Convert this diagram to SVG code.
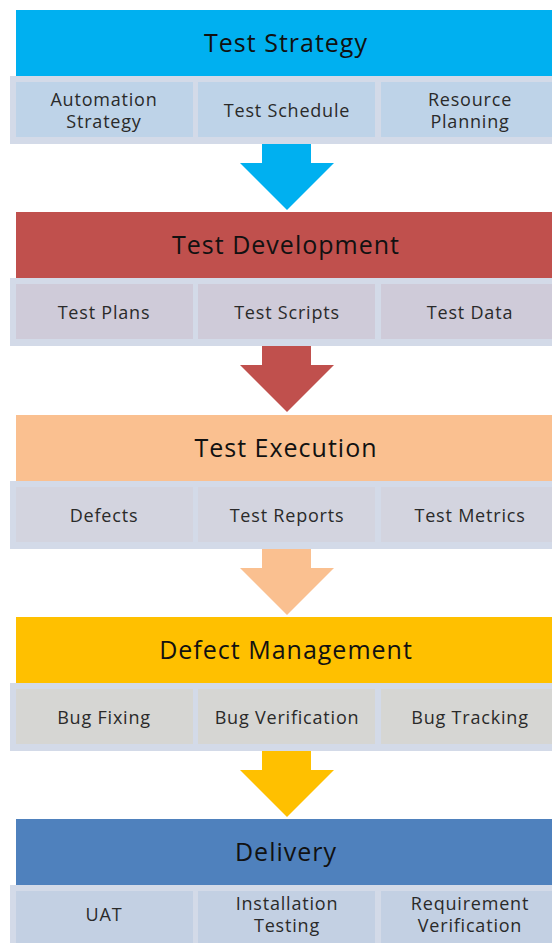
<svg xmlns="http://www.w3.org/2000/svg" width="552" height="943" viewBox="0 0 552 943">
  <style>
    .band { fill: #d3dae8; }
    .head-text { font-family: "Open Sans", "Liberation Sans", Arial, sans-serif; font-size: 25px; letter-spacing: 1px; fill: #111; text-anchor: middle; dominant-baseline: central; }
    .sub-text { font-family: "Open Sans", "Liberation Sans", Arial, sans-serif; font-size: 18px; letter-spacing: 0.8px; fill: #2a2a2a; text-anchor: middle; dominant-baseline: central; }
    .s1 .head, .s1 .arrow { fill: #00b0f0; }
    .s1 .cell { fill: #bed3e8; }
    .s2 .head, .s2 .arrow { fill: #c0504d; }
    .s2 .cell { fill: #cfcbd9; }
    .s3 .head, .s3 .arrow { fill: #fac090; }
    .s3 .cell { fill: #d3d4df; }
    .s4 .head, .s4 .arrow { fill: #ffc000; }
    .s4 .cell { fill: #d6d6d3; }
    .s5 .head { fill: #4f81bd; }
    .s5 .cell { fill: #c3d0e3; }
  </style>

  <!-- Stage 1 -->
  <g id="test-strategy" class="s1">
    <rect class="head" x="16" y="10" width="545" height="66"/>
    <text class="head-text" x="286" y="42">Test Strategy</text>
    <rect class="band" x="10" y="76" width="552" height="68"/>
    <rect class="cell" x="16" y="82" width="177" height="55"/>
    <rect class="cell" x="198" y="82" width="177" height="55"/>
    <rect class="cell" x="381" y="82" width="180" height="55"/>
    <text class="sub-text" x="104" y="99">Automation</text>
    <text class="sub-text" x="104" y="121">Strategy</text>
    <text class="sub-text" x="287" y="110">Test Schedule</text>
    <text class="sub-text" x="470" y="99">Resource</text>
    <text class="sub-text" x="470" y="121">Planning</text>
  </g>

  <!-- Stage 2 -->
  <g id="test-development" class="s2">
    <rect class="head" x="16" y="212" width="545" height="66"/>
    <text class="head-text" x="286" y="244">Test Development</text>
    <rect class="band" x="10" y="278" width="552" height="68"/>
    <rect class="cell" x="16" y="284" width="177" height="55"/>
    <rect class="cell" x="198" y="284" width="177" height="55"/>
    <rect class="cell" x="381" y="284" width="180" height="55"/>
    <text class="sub-text" x="104" y="312">Test Plans</text>
    <text class="sub-text" x="287" y="312">Test Scripts</text>
    <text class="sub-text" x="470" y="312">Test Data</text>
  </g>

  <!-- Stage 3 -->
  <g id="test-execution" class="s3">
    <rect class="head" x="16" y="415" width="545" height="66"/>
    <text class="head-text" x="286" y="447">Test Execution</text>
    <rect class="band" x="10" y="481" width="552" height="68"/>
    <rect class="cell" x="16" y="487" width="177" height="55"/>
    <rect class="cell" x="198" y="487" width="177" height="55"/>
    <rect class="cell" x="381" y="487" width="180" height="55"/>
    <text class="sub-text" x="104" y="515">Defects</text>
    <text class="sub-text" x="287" y="515">Test Reports</text>
    <text class="sub-text" x="470" y="515">Test Metrics</text>
  </g>

  <!-- Stage 4 -->
  <g id="defect-management" class="s4">
    <rect class="head" x="16" y="617" width="545" height="66"/>
    <text class="head-text" x="286" y="649">Defect Management</text>
    <rect class="band" x="10" y="683" width="552" height="68"/>
    <rect class="cell" x="16" y="689" width="177" height="55"/>
    <rect class="cell" x="198" y="689" width="177" height="55"/>
    <rect class="cell" x="381" y="689" width="180" height="55"/>
    <text class="sub-text" x="104" y="717">Bug Fixing</text>
    <text class="sub-text" x="287" y="717">Bug Verification</text>
    <text class="sub-text" x="470" y="717">Bug Tracking</text>
  </g>

  <!-- Stage 5 -->
  <g id="delivery" class="s5">
    <rect class="head" x="16" y="819" width="545" height="66"/>
    <text class="head-text" x="286" y="851">Delivery</text>
    <rect class="band" x="10" y="885" width="552" height="68"/>
    <rect class="cell" x="16" y="891" width="177" height="60"/>
    <rect class="cell" x="198" y="891" width="177" height="60"/>
    <rect class="cell" x="381" y="891" width="180" height="60"/>
    <text class="sub-text" x="104" y="914">UAT</text>
    <text class="sub-text" x="287" y="903">Installation</text>
    <text class="sub-text" x="287" y="925">Testing</text>
    <text class="sub-text" x="470" y="903">Requirement</text>
    <text class="sub-text" x="470" y="925">Verification</text>
  </g>

  <!-- Block arrows between stages -->
  <g id="connectors">
    <g class="s1"><path class="arrow" d="M262,144 H311 V163 H334 L287,210 L240,163 H262 Z"/></g>
    <g class="s2"><path class="arrow" d="M262,346 H311 V365 H334 L287,412 L240,365 H262 Z"/></g>
    <g class="s3"><path class="arrow" d="M262,549 H311 V568 H334 L287,615 L240,568 H262 Z"/></g>
    <g class="s4"><path class="arrow" d="M262,751 H311 V770 H334 L287,817 L240,770 H262 Z"/></g>
  </g>
</svg>
